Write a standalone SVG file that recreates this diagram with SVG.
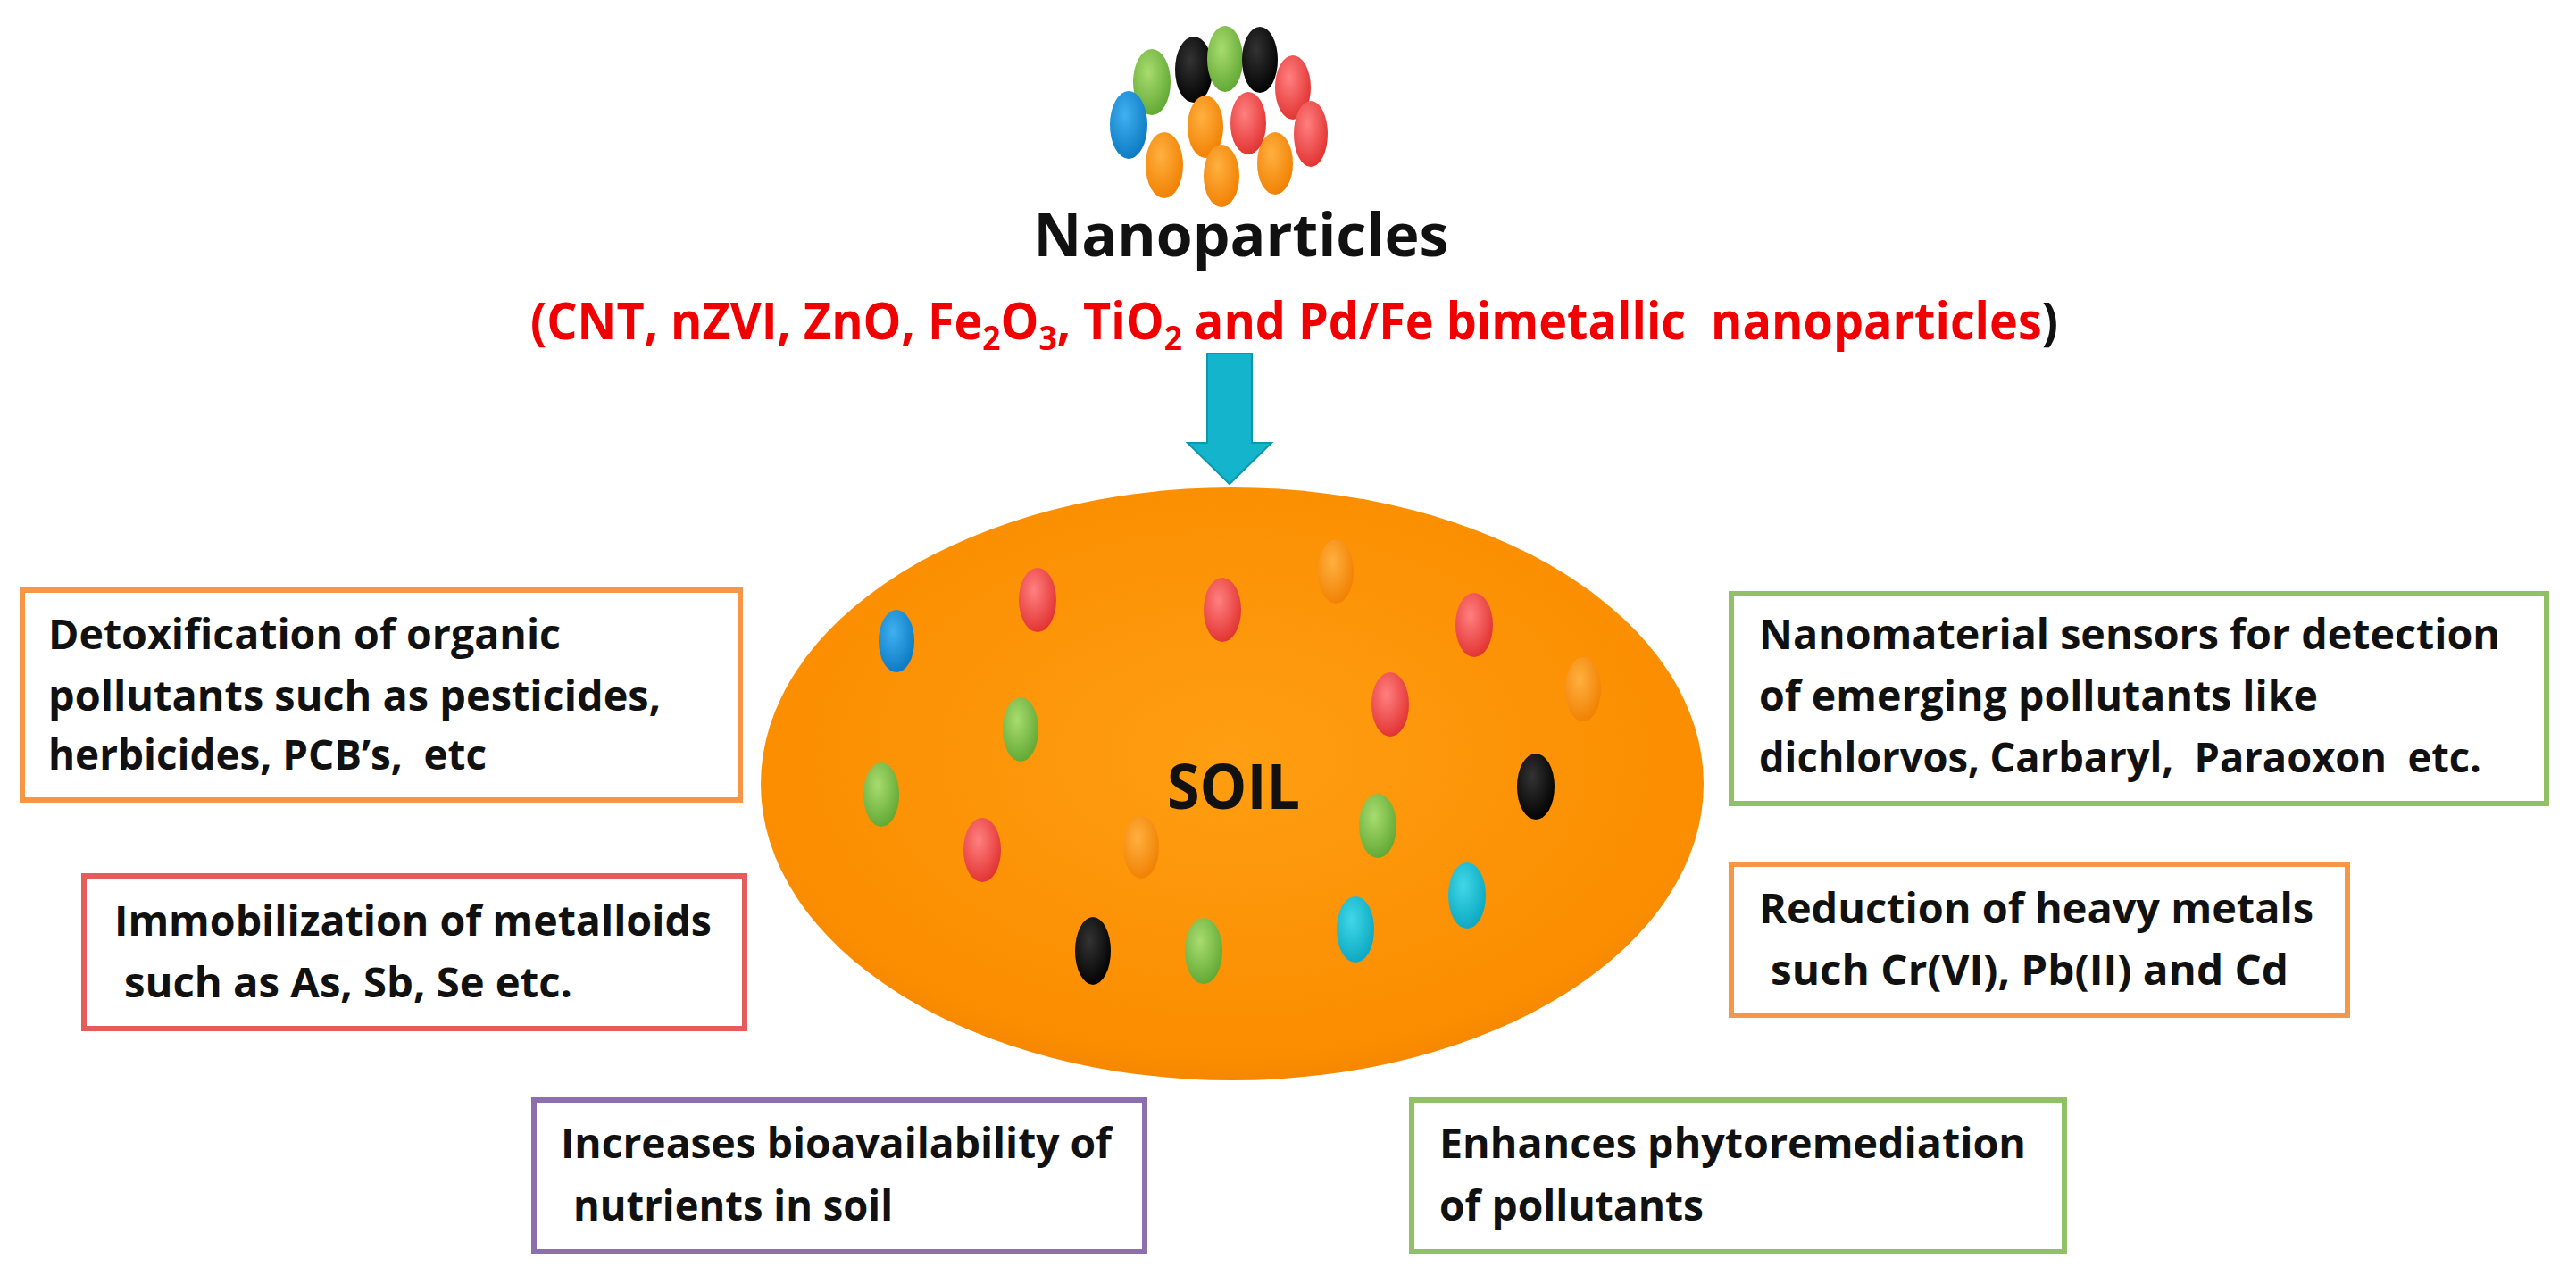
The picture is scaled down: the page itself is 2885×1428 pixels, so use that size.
<svg xmlns="http://www.w3.org/2000/svg" width="2885" height="1428" viewBox="0 0 2885 1428">
<style>
text{white-space:pre}
.t{font-family:"Open Sans","Liberation Sans",sans-serif;font-weight:bold;font-size:46px;fill:#111}
.box{fill:#fff;stroke-width:6}
.rd{fill:url(#gR)}.or{fill:url(#gO)}.gr{fill:url(#gG)}.bk{fill:url(#gK)}.bl{fill:url(#gB)}.tl{fill:url(#gT)}
</style>
<defs>
<radialGradient id="gR" cx="0.4" cy="0.35" r="0.7"><stop offset="0" stop-color="#ff8080"/><stop offset="1" stop-color="#e0302e"/></radialGradient>
<radialGradient id="gO" cx="0.4" cy="0.35" r="0.7"><stop offset="0" stop-color="#ffb040"/><stop offset="1" stop-color="#f07f00"/></radialGradient>
<radialGradient id="gG" cx="0.4" cy="0.35" r="0.7"><stop offset="0" stop-color="#a8dc70"/><stop offset="1" stop-color="#5fa632"/></radialGradient>
<radialGradient id="gK" cx="0.4" cy="0.35" r="0.7"><stop offset="0" stop-color="#333"/><stop offset="1" stop-color="#000"/></radialGradient>
<radialGradient id="gB" cx="0.4" cy="0.35" r="0.7"><stop offset="0" stop-color="#3fb0f0"/><stop offset="1" stop-color="#0a78c0"/></radialGradient>
<radialGradient id="gT" cx="0.4" cy="0.35" r="0.7"><stop offset="0" stop-color="#40d8e8"/><stop offset="1" stop-color="#0aa6c0"/></radialGradient>
<radialGradient id="gS" cx="0.5" cy="0.45" r="0.6"><stop offset="0" stop-color="#ff9e12"/><stop offset="0.85" stop-color="#fb8d00"/><stop offset="1" stop-color="#ef8000"/></radialGradient>
</defs>
<rect width="2885" height="1428" fill="#fff"/>

<g id="nanoparticles">
<ellipse class="gr" cx="1290" cy="92" rx="21" ry="37"/>
<ellipse class="bk" cx="1337" cy="78" rx="21" ry="37"/>
<ellipse class="gr" cx="1372" cy="66" rx="20" ry="37"/>
<ellipse class="bk" cx="1411" cy="67" rx="20" ry="37"/>
<ellipse class="rd" cx="1448" cy="98" rx="20" ry="36"/>
<ellipse class="bl" cx="1264" cy="140" rx="21" ry="38"/>
<ellipse class="or" cx="1350" cy="142" rx="20" ry="35"/>
<ellipse class="rd" cx="1398" cy="138" rx="20" ry="35"/>
<ellipse class="rd" cx="1468" cy="150" rx="19" ry="37"/>
<ellipse class="or" cx="1304" cy="185" rx="21" ry="37"/>
<ellipse class="or" cx="1368" cy="197" rx="20" ry="35"/>
<ellipse class="or" cx="1428" cy="183" rx="20" ry="35"/>
<text x="1390" y="287" text-anchor="middle" font-family="Open Sans, Liberation Sans, sans-serif" font-weight="bold" font-size="66" fill="#111" textLength="465" lengthAdjust="spacingAndGlyphs">Nanoparticles</text>
<text x="594" y="380" font-family="Open Sans, Liberation Sans, sans-serif" font-weight="bold" font-size="58" fill="#f00000" textLength="1711" lengthAdjust="spacingAndGlyphs">(CNT, nZVI, ZnO, Fe<tspan font-size="38" dy="12">2</tspan><tspan dy="-12">O</tspan><tspan font-size="38" dy="12">3</tspan><tspan dy="-12">, TiO</tspan><tspan font-size="38" dy="12">2</tspan><tspan dy="-12"> and Pd/Fe bimetallic  nanoparticles</tspan><tspan fill="#111">)</tspan></text>
</g>

<g id="connectors">
<path d="M1352 396 H1402 V496 H1424 L1377 542 L1330 496 H1352 Z" fill="#14b4cc" stroke="#0c97ad" stroke-width="2"/>
</g>

<g id="soil">
<ellipse cx="1380" cy="878" rx="528" ry="332" fill="url(#gS)"/>
<ellipse class="bl" cx="1004" cy="718" rx="20" ry="35"/>
<ellipse class="rd" cx="1162" cy="672" rx="21" ry="36"/>
<ellipse class="rd" cx="1369" cy="683" rx="21" ry="36"/>
<ellipse class="or" cx="1496" cy="640" rx="20" ry="36"/>
<ellipse class="rd" cx="1651" cy="700" rx="21" ry="36"/>
<ellipse class="or" cx="1773" cy="772" rx="20" ry="36"/>
<ellipse class="rd" cx="1557" cy="789" rx="21" ry="36"/>
<ellipse class="gr" cx="1143" cy="817" rx="20" ry="36"/>
<ellipse class="gr" cx="987" cy="890" rx="20" ry="36"/>
<ellipse class="bk" cx="1720" cy="881" rx="21" ry="37"/>
<ellipse class="gr" cx="1543" cy="925" rx="21" ry="36"/>
<ellipse class="or" cx="1278" cy="949" rx="20" ry="35"/>
<ellipse class="rd" cx="1100" cy="952" rx="21" ry="36"/>
<ellipse class="tl" cx="1643" cy="1003" rx="21" ry="37"/>
<ellipse class="tl" cx="1518" cy="1041" rx="21" ry="37"/>
<ellipse class="bk" cx="1224" cy="1065" rx="20" ry="38"/>
<ellipse class="gr" cx="1348" cy="1065" rx="21" ry="37"/>
<text x="1307" y="906" font-family="Open Sans, Liberation Sans, sans-serif" font-weight="bold" font-size="70" fill="#111" textLength="149" lengthAdjust="spacingAndGlyphs">SOIL</text>
</g>

<g id="box-detox">
<rect class="box" x="25" y="661" width="804" height="235" stroke="#f79646"/>
<text class="t" x="54" y="727" textLength="574" lengthAdjust="spacingAndGlyphs">Detoxification of organic</text>
<text class="t" x="54" y="796" textLength="686" lengthAdjust="spacingAndGlyphs">pollutants such as pesticides,</text>
<text class="t" x="54" y="862" textLength="491" lengthAdjust="spacingAndGlyphs">herbicides, PCB’s,  etc</text>
</g>

<g id="box-immob">
<rect class="box" x="94" y="981" width="740" height="171" stroke="#e45c5c"/>
<text class="t" x="128" y="1048" textLength="669" lengthAdjust="spacingAndGlyphs">Immobilization of metalloids</text>
<text class="t" x="139" y="1117" textLength="502" lengthAdjust="spacingAndGlyphs">such as As, Sb, Se etc.</text>
</g>

<g id="box-bio">
<rect class="box" x="598" y="1232" width="684" height="170" stroke="#8e6fae"/>
<text class="t" x="628" y="1297" textLength="617" lengthAdjust="spacingAndGlyphs">Increases bioavailability of</text>
<text class="t" x="642" y="1367" textLength="358" lengthAdjust="spacingAndGlyphs">nutrients in soil</text>
</g>

<g id="box-phyto">
<rect class="box" x="1581" y="1232" width="731" height="170" stroke="#92c064"/>
<text class="t" x="1612" y="1297" textLength="657" lengthAdjust="spacingAndGlyphs">Enhances phytoremediation</text>
<text class="t" x="1612" y="1367" textLength="296" lengthAdjust="spacingAndGlyphs">of pollutants</text>
</g>

<g id="box-sensors">
<rect class="box" x="1939" y="665" width="913" height="235" stroke="#92c064"/>
<text class="t" x="1970" y="727" textLength="830" lengthAdjust="spacingAndGlyphs">Nanomaterial sensors for detection</text>
<text class="t" x="1970" y="796" textLength="626" lengthAdjust="spacingAndGlyphs">of emerging pollutants like</text>
<text class="t" x="1970" y="865" textLength="809" lengthAdjust="spacingAndGlyphs">dichlorvos, Carbaryl,  Paraoxon  etc.</text>
</g>

<g id="box-heavy">
<rect class="box" x="1939" y="968" width="690" height="169" stroke="#f79646"/>
<text class="t" x="1970" y="1034" textLength="621" lengthAdjust="spacingAndGlyphs">Reduction of heavy metals</text>
<text class="t" x="1983" y="1103" textLength="580" lengthAdjust="spacingAndGlyphs">such Cr(VI), Pb(II) and Cd</text>
</g>
</svg>
